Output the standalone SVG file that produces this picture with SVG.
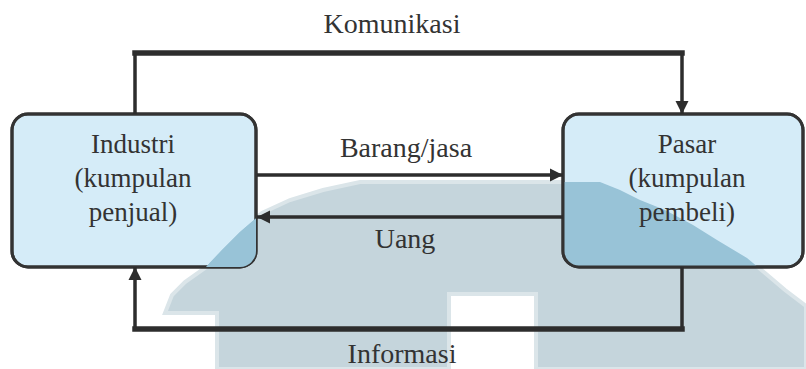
<svg xmlns="http://www.w3.org/2000/svg" xmlns:xlink="http://www.w3.org/1999/xlink" width="806" height="369" viewBox="0 0 806 369">
<style>
.box{fill:#d5ecf8;stroke:#333;stroke-width:3}
.t{fill:#333;text-anchor:middle;font-family:'Liberation Serif','Times New Roman',serif}
.ln{fill:none;stroke:#2d2d2d;stroke-width:3.5}
.thick{fill:none;stroke:#2d2d2d;stroke-width:5.5;stroke-linecap:square}
</style>
<defs>
<marker id="ah" viewBox="0 0 10 10" refX="10" refY="5" markerWidth="13" markerHeight="14" markerUnits="userSpaceOnUse" orient="auto">
<path d="M0,0 L10,5 L0,10 z" fill="#2d2d2d"/>
</marker>
<path id="wm" d="M360,182 H600 L620,190 L640,200 L665,210 L693,225 L717,240 L747,258 L765,273 L785,290 L806,306 V369 H536 V294 H449 V369 H217 V313 H165 L172,295 L185,282 L205,268 L222,250 L240,232 L262,213 L290,200 L323,190 Z"/>
<clipPath id="boxclip">
<rect x="12" y="114" width="244" height="153" rx="16"/>
<rect x="563" y="114" width="240" height="153" rx="16"/>
</clipPath>
</defs>
<rect width="806" height="369" fill="#ffffff"/>
<g id="watermark">
<use xlink:href="#wm" fill="#c5d5dc" stroke="#dbe5e9" stroke-width="4"/>
</g>
<g id="industri" font-size="27">
<rect class="box" x="12" y="114" width="244" height="153" rx="16"/>
<use xlink:href="#wm" fill="#98c3d7" clip-path="url(#boxclip)"/>
<rect x="12" y="114" width="244" height="153" rx="16" fill="none" stroke="#333" stroke-width="3"/>
<text class="t" x="133" y="153">Industri</text>
<text class="t" x="133" y="187">(kumpulan</text>
<text class="t" x="133" y="221">penjual)</text>
</g>
<g id="pasar" font-size="27">
<rect class="box" x="563" y="114" width="240" height="153" rx="16"/>
<use xlink:href="#wm" fill="#98c3d7" clip-path="url(#boxclip)"/>
<rect x="563" y="114" width="240" height="153" rx="16" fill="none" stroke="#333" stroke-width="3"/>
<text class="t" x="687" y="153">Pasar</text>
<text class="t" x="687" y="187">(kumpulan</text>
<text class="t" x="687" y="221">pembeli)</text>
</g>
<g id="connectors" font-size="28">
<g id="komunikasi">
<path class="ln" d="M135,114 V53"/>
<path class="thick" d="M135,53 H682"/>
<path class="ln" d="M682,53 V114" marker-end="url(#ah)"/>
<text class="t" x="392" y="33">Komunikasi</text>
</g>
<g id="barang">
<path class="ln" d="M257,175 H563" marker-end="url(#ah)"/>
<text class="t" x="406" y="157">Barang/jasa</text>
</g>
<g id="uang">
<path class="ln" d="M563,217 H257" marker-end="url(#ah)"/>
<text class="t" x="405" y="248">Uang</text>
</g>
<g id="informasi">
<path class="ln" d="M682,267 V329"/>
<path class="thick" d="M682,329 H135"/>
<path class="ln" d="M135,329 V267" marker-end="url(#ah)"/>
<text class="t" x="402" y="363">Informasi</text>
</g>
</g>
</svg>
